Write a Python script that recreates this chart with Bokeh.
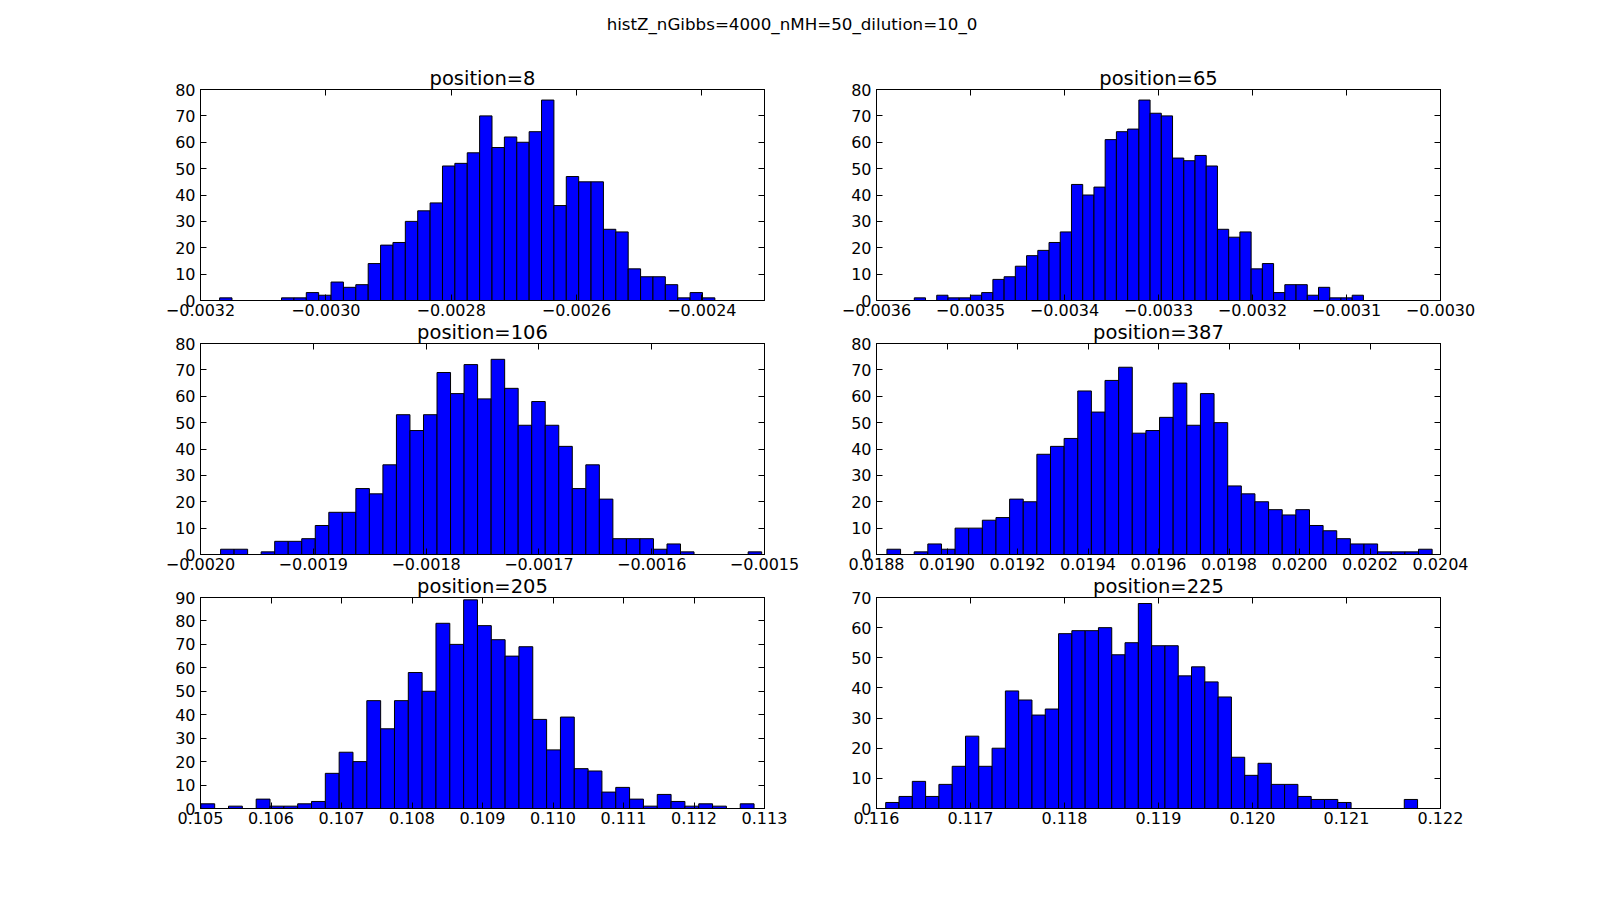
import numpy as np
from bokeh.plotting import figure
from bokeh.layouts import column, row
from bokeh.models import Range1d, LinearAxis, FixedTicker, CustomJSTickFormatter, Div
from bokeh.embed import file_html
from bokeh.resources import INLINE

suptitle = "histZ_nGibbs=4000_nMH=50_dilution=10_0"

# counts of the 40 bins of each histogram
counts_8 = [1, 0, 0, 0, 0, 1, 1, 3, 2, 7, 5, 6, 14, 21, 22, 30, 34, 37, 51, 52,
            56, 70, 58, 62, 60, 64, 76, 36, 47, 45, 45, 27, 26, 12, 9, 9, 6, 1, 3, 1]
counts_65 = [1, 0, 2, 1, 1, 2, 3, 8, 9, 13, 17, 19, 22, 26, 44, 40, 43, 61, 64, 65,
             76, 71, 70, 54, 53, 55, 51, 27, 24, 26, 12, 14, 3, 6, 6, 2, 5, 1, 1, 2]
counts_106 = [2, 2, 0, 1, 5, 5, 6, 11, 16, 16, 25, 23, 34, 53, 47, 53, 69, 61, 72, 59,
              74, 63, 49, 58, 49, 41, 25, 34, 21, 6, 6, 6, 2, 4, 1, 0, 0, 0, 0, 1]
counts_387 = [2, 0, 1, 4, 2, 10, 10, 13, 14, 21, 20, 38, 41, 44, 62, 54, 66, 71, 46, 47,
              52, 65, 49, 61, 50, 26, 23, 20, 17, 15, 17, 11, 9, 6, 4, 4, 1, 1, 1, 2]
counts_205 = [2, 0, 1, 0, 4, 1, 1, 2, 3, 15, 24, 20, 46, 34, 46, 58, 50, 79, 70, 89,
              78, 72, 65, 69, 38, 25, 39, 17, 16, 7, 9, 4, 1, 6, 3, 1, 2, 1, 0, 2]
counts_225 = [2, 4, 9, 4, 8, 14, 24, 14, 20, 39, 36, 31, 33, 58, 59, 59, 60, 51, 55, 68,
              54, 54, 44, 47, 42, 37, 17, 11, 15, 8, 8, 4, 3, 3, 2, 0, 0, 0, 0, 3]

# first and last bin edge (min / max of the samples)
range_8 = (-0.0031695, -0.0023792)
range_65 = (-0.0035598, -0.0030820)
range_106 = (-0.0019822, -0.0015025)
range_387 = (0.0188296, 0.0203763)
range_205 = (0.1050050, 0.1128520)
range_225 = (0.1160980, 0.1217560)

# axis limits and ticks
xlim_8 = (-0.0032, -0.0023)
xlim_65 = (-0.0036, -0.0030)
xlim_106 = (-0.0020, -0.0015)
xlim_387 = (0.0188, 0.0204)
xlim_205 = (0.105, 0.113)
xlim_225 = (0.116, 0.122)

xticks_8 = [-0.0032, -0.0030, -0.0028, -0.0026, -0.0024]
xticks_65 = [-0.0036, -0.0035, -0.0034, -0.0033, -0.0032, -0.0031, -0.0030]
xticks_106 = [-0.0020, -0.0019, -0.0018, -0.0017, -0.0016, -0.0015]
xticks_387 = [0.0188, 0.0190, 0.0192, 0.0194, 0.0196, 0.0198, 0.0200, 0.0202, 0.0204]
xticks_205 = [0.105, 0.106, 0.107, 0.108, 0.109, 0.110, 0.111, 0.112, 0.113]
xticks_225 = [0.116, 0.117, 0.118, 0.119, 0.120, 0.121, 0.122]

ymax_8, ymax_65, ymax_106, ymax_387, ymax_205, ymax_225 = 80, 80, 80, 80, 90, 70

FONT = "DejaVu Sans"


def panel(pos, counts, rng, xlim, xticks, ymax, decimals, col, r):
    edges = np.linspace(rng[0], rng[1], len(counts) + 1)
    p = figure(output_backend="svg", toolbar_location=None,
               frame_width=564, frame_height=211,
               x_range=Range1d(*xlim), y_range=Range1d(0, ymax),
               x_axis_type=None, y_axis_type=None,
               min_border_left=200 if col == 0 else 60,
               min_border_right=52 if col == 0 else 80,
               min_border_top=44 if r == 0 else 10,
               min_border_bottom=10 if r < 2 else 30,
               background_fill_color="white", border_fill_color="white",
               outline_line_color="black", outline_line_alpha=1)
    p.title.text = "position=%d" % pos
    p.title.align = "center"
    p.title.text_font = FONT
    p.title.text_font_size = "19.5px"
    p.title.text_font_style = "normal"
    p.title.text_color = "black"
    p.title.standoff = 0

    yticks = list(range(0, ymax + 1, 10))
    fmt = CustomJSTickFormatter(code="return tick.toFixed(%d).replace('-', '\\u2212');" % decimals)
    blank = CustomJSTickFormatter(code="return '';")

    # matplotlib style: inward ticks on all four sides, labels bottom/left
    for side, ticks, f in (("below", xticks, fmt), ("left", yticks, None),
                           ("above", xticks, blank), ("right", yticks, blank)):
        ax = LinearAxis(ticker=FixedTicker(ticks=ticks))
        if f is not None:
            ax.formatter = f
        ax.major_tick_in = 6
        ax.major_tick_out = 0
        ax.minor_tick_in = 0
        ax.minor_tick_out = 0
        ax.axis_line_color = "black"
        ax.major_tick_line_color = "black"
        ax.major_label_text_color = "black"
        ax.major_label_text_font = FONT
        if side in ("above", "right"):
            ax.major_label_text_font_size = "1px"
            ax.major_label_standoff = 0
        else:
            ax.major_label_text_font_size = "16px"
            ax.major_label_standoff = 3 if side == "below" else 5
        p.add_layout(ax, side)

    p.xgrid.visible = False
    p.ygrid.visible = False
    p.quad(left=edges[:-1], right=edges[1:], bottom=0, top=counts,
           fill_color="#0000ff", line_color="black", line_width=1)
    return p


p1 = panel(8, counts_8, range_8, xlim_8, xticks_8, ymax_8, 4, 0, 0)
p2 = panel(65, counts_65, range_65, xlim_65, xticks_65, ymax_65, 4, 1, 0)
p3 = panel(106, counts_106, range_106, xlim_106, xticks_106, ymax_106, 4, 0, 1)
p4 = panel(387, counts_387, range_387, xlim_387, xticks_387, ymax_387, 4, 1, 1)
p5 = panel(205, counts_205, range_205, xlim_205, xticks_205, ymax_205, 3, 0, 2)
p6 = panel(225, counts_225, range_225, xlim_225, xticks_225, ymax_225, 3, 1, 2)

head = Div(text=suptitle, width=1584, height=32, margin=(13, 0, 0, 0),
           styles={"font-family": FONT, "font-size": "16.7px",
                   "text-align": "center", "color": "black"})

p = column(head, row(p1, p2), row(p3, p4), row(p5, p6))

open("out.html", "w").write(file_html(p, INLINE))
